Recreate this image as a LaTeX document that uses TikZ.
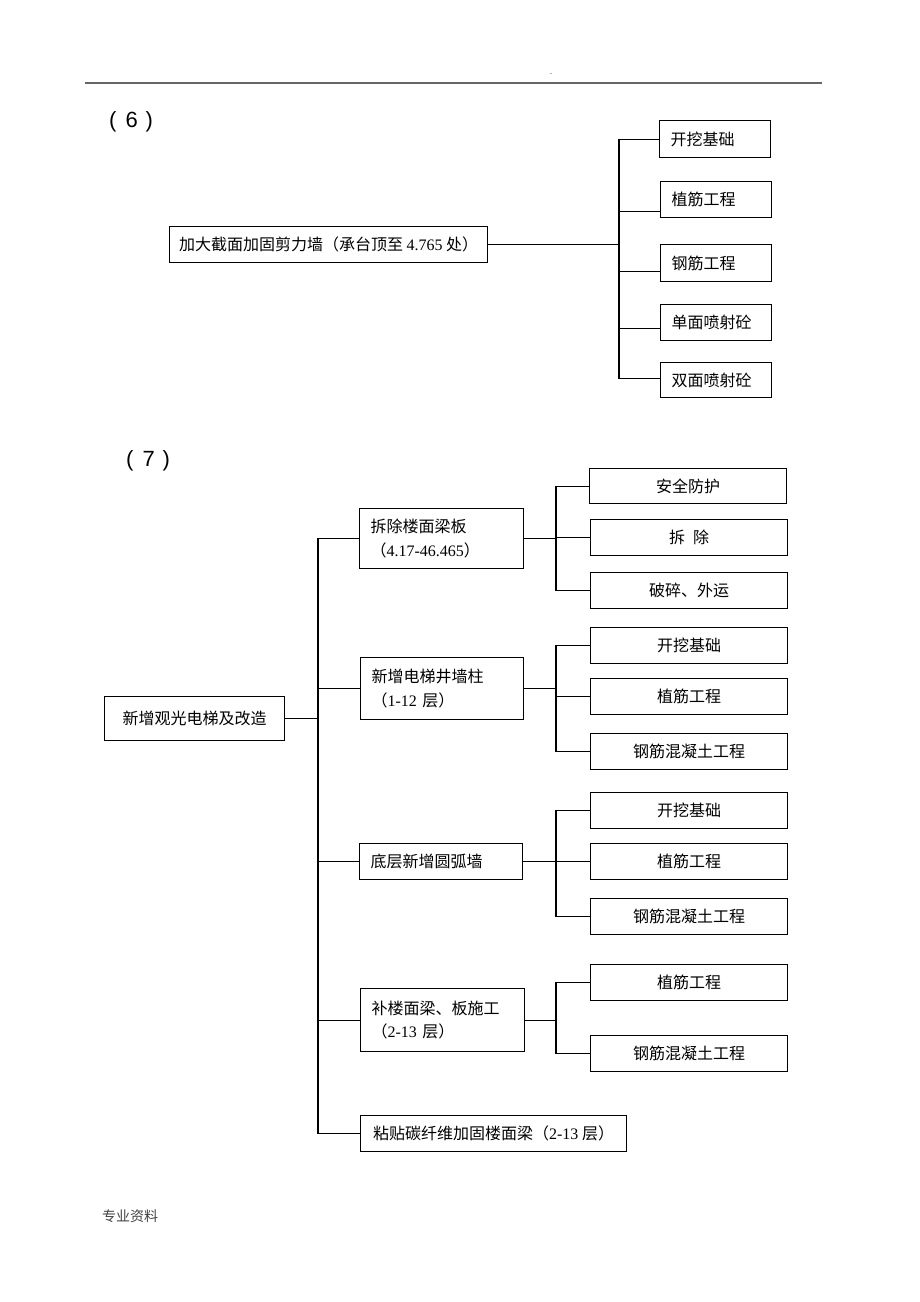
\documentclass[tikz,border=0pt]{standalone}
\usepackage{fontspec}
\usetikzlibrary{calc}
\setmainfont{Liberation Serif}
\newfontfamily\cjk{Noto Sans CJK SC}
\newfontfamily\headsans{Liberation Sans}
\newcommand\rmnum[1]{{\rmfamily #1}}

\begin{document}
\begin{tikzpicture}[x=1pt,y=-1pt]

    \tikzset{
      box/.style={
        draw,
        line width=1.2pt,
        anchor=north west,
        minimum height=36pt,
        inner xsep=0pt,
        inner ysep=0pt,
        font=\cjk\fontsize{16}{23.5}\selectfont,
      },
      lbox/.style={
        box,
        inner xsep=11pt,
        align=left,
        text width=#1,
      },
      leaf/.style={
        box,
        minimum width=197pt,
      },
      link/.style={
        line width=1.1pt,
      },
      heading/.style={
        anchor=west,
        inner sep=0pt,
        font=\headsans\fontsize{22}{22}\selectfont,
      },
    }
    \useasboundingbox (0,0) rectangle (920,1302);

    \draw[black!60, line width=1.5pt] (85,83) -- (822,83);
    \node[inner sep=0pt, font=\fontsize{8}{8}\selectfont] (hdr) at (551,74) {.};
    \node[heading] (t6) at (109,122) {(\hspace{9pt}6\hspace{8pt})};
    \node[heading] (t7) at (126,461) {(\hspace{9pt}7\hspace{8pt})};
    \node[anchor=west, inner sep=0pt, text=black!75, font=\cjk\fontsize{14}{14}\selectfont] (foot) at (102,1216) {专业资料};

    % (6)
    \node[box, minimum width=318pt] (s6main) at (169,226) {加大截面加固剪力墙（承台顶至 \rmnum{4.765} 处）};
    \node[lbox=89pt, minimum height=37pt] (s6a) at (659,120) {开挖基础};
    \node[lbox=89pt] (s6b) at (660,181) {植筋工程};
    \node[lbox=89pt, minimum height=37pt] (s6c) at (660,244) {钢筋工程};
    \node[lbox=89pt] (s6d) at (660,304) {单面喷射砼};
    \node[lbox=89pt, minimum height=35pt] (s6e) at (660,362) {双面喷射砼};

    \coordinate (s6hub) at (619,0);
    \foreach \n/\d in {s6a/0,s6b/12,s6c/8.5,s6d/6,s6e/-1.5}
      \draw[link] (s6main.east) -| ($(s6hub |- \n.west)+(0,\d)$) -- ($(\n.west)+(0,\d)$);

    % (7)
    \node[box, minimum width=180pt, minimum height=44pt] (s7main) at (104,696) {新增观光电梯及改造};

    \node[lbox=142pt, minimum height=60pt] (r1) at (359,508) {拆除楼面梁板\\（\rmnum{4.17-46.465}）};
    \node[lbox=141pt, minimum height=62pt] (r2) at (360,657) {新增电梯井墙柱\\（\rmnum{1-12} 层）};
    \node[lbox=141pt] (r3) at (359,843) {底层新增圆弧墙};
    \node[lbox=142pt, minimum height=63pt] (r4) at (360,988) {补楼面梁、板施工\\（\rmnum{2-13} 层）};
    \node[box, minimum width=266pt] (r5) at (360,1115) {粘贴碳纤维加固楼面梁（\rmnum{2-13} 层）};

    \node[leaf, minimum height=35pt] (a1) at (589,468) {安全防护};
    \node[leaf] (a2) at (590,519) {拆\hspace{0.5em}除};
    \node[leaf] (a3) at (590,572) {破碎、外运};
    \node[leaf] (b1) at (590,627) {开挖基础};
    \node[leaf] (b2) at (590,678) {植筋工程};
    \node[leaf] (b3) at (590,733) {钢筋混凝土工程};
    \node[leaf] (c1) at (590,792) {开挖基础};
    \node[leaf] (c2) at (590,843) {植筋工程};
    \node[leaf] (c3) at (590,898) {钢筋混凝土工程};
    \node[leaf] (d1) at (590,964) {植筋工程};
    \node[leaf] (d2) at (590,1035) {钢筋混凝土工程};

    \coordinate (s7hub) at (318,0);
    \foreach \n in {r1,r2,r3,r4,r5}
      \draw[link] (s7main.east) -| (s7hub |- \n.west) -- (\n.west);

    \coordinate (s7sub) at (556,0);
    \foreach \p/\c in {r1/a1,r1/a2,r1/a3,r2/b1,r2/b2,r2/b3,r3/c1,r3/c2,r3/c3,r4/d1,r4/d2}
      \draw[link] (\p.east) -| (s7sub |- \c.west) -- (\c.west);

\end{tikzpicture}
\end{document}
